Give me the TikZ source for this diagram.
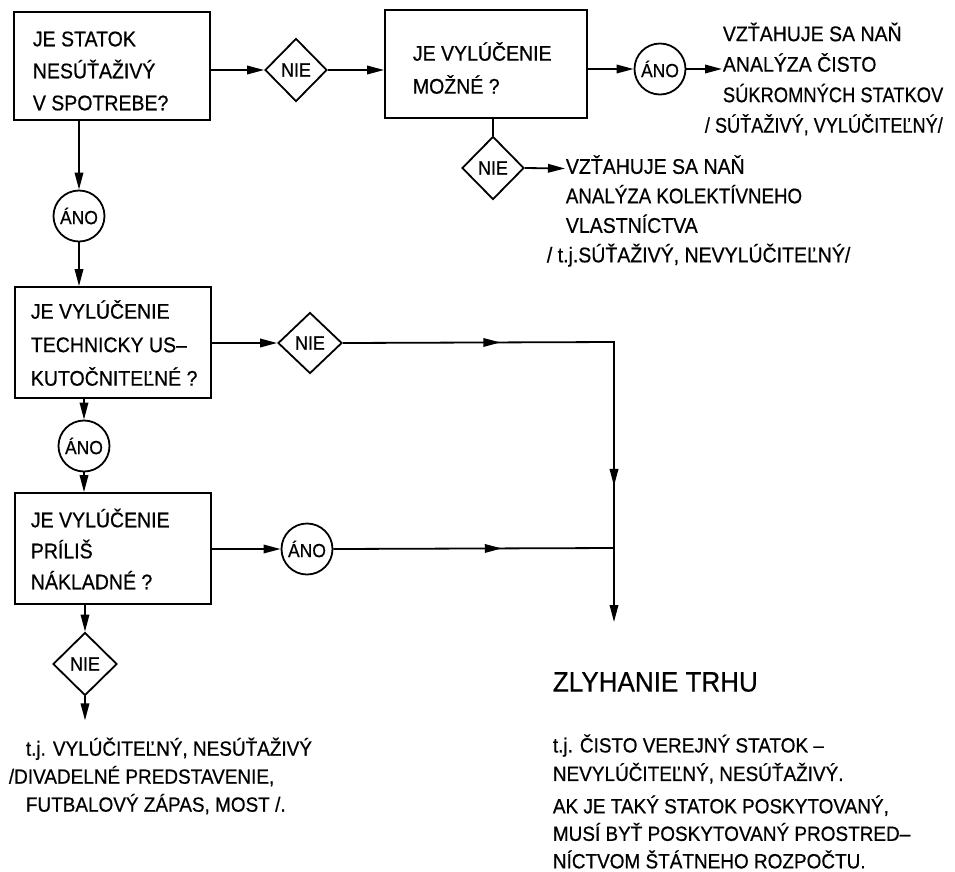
\documentclass[tikz,border=0pt]{standalone}
\usepackage{fontspec}
\usepackage{graphicx}
\setmainfont[FakeStretch=0.92,FakeBold=0.6]{Liberation Sans}
\usetikzlibrary{shapes.geometric,arrows.meta,decorations.markings,calc}
\begin{document}
\begin{tikzpicture}[x=1pt,y=-1pt,
  line width=1.8pt,
  tri/.tip={Triangle[length=17pt,width=8.5pt]},
  arr/.style={-tri},
  qbox/.style={draw,rectangle,inner sep=0pt},
  qtext/.style={anchor=west,inner sep=0pt,align=left,font=\fontsize{21.2}{32}\selectfont},
  ntext/.style={anchor=west,inner sep=0pt,align=left,font=\fontsize{21.2}{29.5}\selectfont},
  nie/.style={draw,diamond,inner sep=0pt,font=\fontsize{19.5}{19.5}\selectfont},
  ano/.style={draw,circle,inner sep=0pt,minimum size=51pt,font=\fontsize{19}{19}\selectfont},
  mark1/.style={postaction={decorate},decoration={markings,mark=at position #1 with {\arrow{tri}}}}
]
\fill[white] (0,0) rectangle (955,871);
\useasboundingbox (0,0) rectangle (955,871);

% boxes
\node[qbox,minimum width=196pt,minimum height=108pt] (b1) at (112,66) {};
\node[qtext] (tb1) at (32,71) {JE STATOK\\NESÚŤAŽIVÝ\\V SPOTREBE?};
\node[qbox,minimum width=202pt,minimum height=108pt] (b2) at (486,64) {};
\node[qtext,font=\fontsize{21.2}{33}\selectfont] (tb2) at (412,68) {JE VYLÚČENIE\\MOŽNÉ ?};
\node[qbox,minimum width=196pt,minimum height=111pt] (b3) at (113,342.5) {};
\node[qtext,font=\fontsize{21.2}{33.5}\selectfont] (tb3) at (30,343) {JE VYLÚČENIE\\TECHNICKY US–\\KUTOČNITEĽNÉ ?};
\node[qbox,minimum width=196pt,minimum height=111pt] (b4) at (113,548.5) {};
\node[qtext,font=\fontsize{21.2}{31}\selectfont] (tb4) at (30,549) {JE VYLÚČENIE\\PRÍLIŠ\\NÁKLADNÉ ?};

% decisions
\node[nie,minimum width=62pt,minimum height=63pt] (n1) at (296,70) {NIE};
\node[nie,minimum width=62pt,minimum height=63pt] (n2) at (493,168) {NIE};
\node[nie,minimum width=64pt,minimum height=61pt] (n3) at (310,343) {NIE};
\node[nie,minimum width=64pt,minimum height=63pt] (n4) at (85,664) {NIE};

\node[ano] (a1) at (660,69) {ÁNO};
\node[ano] (a2) at (79,216) {ÁNO};
\node[ano] (a3) at (84,446) {ÁNO};
\node[ano] (a4) at (307,549) {ÁNO};

% texts
\node[ntext,font=\fontsize{21.2}{30.5}\selectfont] (t1) at (722,79) {VZŤAHUJE SA NAŇ\\ANALÝZA ČISTO\\\scalebox{0.94}[1]{SÚKROMNÝCH STATKOV}\\\hspace*{-18pt}\scalebox{0.93}[1]{/ SÚŤAŽIVÝ, VYLÚČITEĽNÝ/}};
\node[ntext] (t2) at (565,211) {VZŤAHUJE SA NAŇ\\\scalebox{0.96}[1]{ANALÝZA KOLEKTÍVNEHO}\\VLASTNÍCTVA\\\hspace*{-19pt}/ t.j.SÚŤAŽIVÝ, NEVYLÚČITEĽNÝ/};
\node[ntext,font=\fontsize{20.6}{28}\selectfont] (t4) at (25,776) {t.j. VYLÚČITEĽNÝ, NESÚŤAŽIVÝ\\\hspace*{-17pt}/DIVADELNÉ PREDSTAVENIE,\\FUTBALOVÝ ZÁPAS, MOST /.};
\node[anchor=west,inner sep=0pt,font=\fontsize{28.3}{28}\selectfont] (z) at (552,682) {ZLYHANIE TRHU};
\node[ntext,font=\fontsize{20.6}{28.5}\selectfont] (t5) at (552,759) {t.j. ČISTO VEREJNÝ STATOK –\\NEVYLÚČITEĽNÝ, NESÚŤAŽIVÝ.};
\node[ntext,font=\fontsize{20.6}{27.5}\selectfont] (t6) at (552,832) {AK JE TAKÝ STATOK POSKYTOVANÝ,\\MUSÍ BYŤ POSKYTOVANÝ PROSTRED–\\NÍCTVOM ŠTÁTNEHO ROZPOČTU.};

% junction coordinates
\coordinate (c1) at (614,342);
\coordinate (c2) at (614,548);
\coordinate (c3) at (614,622);

% connectors
\draw[arr] (b1.east |- n1) -- (n1.west);
\draw[arr] (n1.east) -- (b2.west |- n1);
\draw[arr] (b2.east |- a1) -- (a1.west);
\draw[arr] (a1.east) -- (a1 -| t1.west);
\draw (b2.south -| n2) -- (n2.north);
\draw[arr] (n2.east) -- ([yshift=-0.5pt]n2.east -| t2.west);

\draw[arr] (b1.south -| a2) -- (a2.north);
\draw[arr] (a2.south) -- (b3.north -| a2);
\draw[arr] (b3.east |- n3) -- (n3.west);
\draw[arr] (b3.south -| a3) -- (a3.north);
\draw[arr] (a3.south) -- (b4.north -| a3);
\draw[arr] (b4.east |- a4) -- (a4.west);
\draw[arr] (b4.south -| n4) -- (n4.north);
\draw[arr] (n4.south) -- ($(n4.south)+(0,24)$) coordinate (e4);

\draw[line join=miter,postaction={decorate},decoration={markings,
   mark=at position 0.33 with {\arrow{tri}},
   mark=at position 0.87 with {\arrow{tri}}}]
   (n3.east) -- (c1) -- (c2);
\draw[mark1=0.6] (a4.east) -- (c2);
\draw[arr] (c2) -- (c3);
\end{tikzpicture}
\end{document}
